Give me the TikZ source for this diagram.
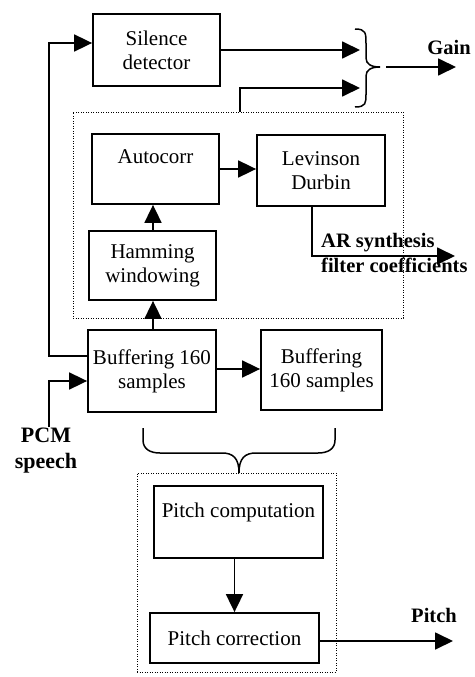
\documentclass[tikz,border=0pt]{standalone}
\usepackage{fontspec}
\setmainfont{Liberation Serif}
\usetikzlibrary{arrows.meta}
\begin{document}
\begin{tikzpicture}[x=1pt,y=-1pt,
 box/.style={draw,line width=1.8pt,inner sep=0pt,align=center,font=\fontsize{21}{24}\selectfont},
 arr/.style={line width=1.8pt,-{Triangle[length=18pt,width=17pt]}},
 ln/.style={line width=1.5pt},
 grp/.style={draw,line width=0.9pt,dash pattern=on 0.9pt off 1.6pt,inner sep=0pt},
 lbl/.style={font=\bfseries\fontsize{20.5}{25}\selectfont,inner sep=0pt},
 big/.style={font=\bfseries\fontsize{22}{26}\selectfont,inner sep=0pt}]
\useasboundingbox (0,0) rectangle (474,677);

% groups
\node[grp,minimum width=330pt,minimum height=206pt] (g1) at (238,215) {};
\node[grp,minimum width=199pt,minimum height=199pt] (g2) at (236.5,572.5) {};

% boxes
\node[box,minimum width=127pt,minimum height=72pt] (sil) at (156.5,50) {Silence\\detector};
\node[box,minimum width=127pt,minimum height=70pt] (auto) at (155.5,169) {Autocorr\\\mbox{}};
\node[box,minimum width=128pt,minimum height=71pt] (lev) at (321,170.5) {Levinson\\Durbin};
\node[box,minimum width=127pt,minimum height=69pt] (ham) at (152.5,265.5) {Hamming\\windowing};
\node[box,minimum width=128pt,minimum height=82pt] (buf1) at (152,371) {\raisebox{3pt}{Buffering 160}\\\raisebox{3pt}{samples}};
\node[box,minimum width=121pt,minimum height=80pt] (buf2) at (321.5,370) {Buffering\\160 samples};
\node[box,minimum width=169pt,minimum height=72pt] (pc) at (238.5,522) {Pitch computation\\\mbox{}};
\node[box,minimum width=169pt,minimum height=50pt] (pcor) at (234.5,638) {Pitch correction};

% labels
\node[lbl] (gain) at (449,47) {Gain};
\node[lbl,anchor=base west] (ar1) at (321,247) {AR synthesis};
\node[lbl,anchor=base west] (ar2) at (321,272) {filter coefficients};
\node[big,anchor=base] (pcm) at (46,442) {PCM};
\node[big,anchor=base] (sp) at (46,468) {speech};
\node[lbl] (pitch) at (434,615) {Pitch};

% coordinates
\coordinate (gA) at (360,50);
\coordinate (gBx) at (240,0);
\coordinate (gB) at (360,88);
\coordinate (gainS) at (386,67);
\coordinate (gainE) at (456,67);
\coordinate (fb) at (49,356);
\coordinate (fbt) at (49,43);
\coordinate (cx) at (153,0);
\coordinate (arx) at (312,0);
\coordinate (arE) at (455,256);
\coordinate (bb) at (0,369);
\coordinate (pcmS) at (49,427);
\coordinate (pcmT) at (49,381);
\coordinate (pE) at (453,641);

% connectors
\draw[arr] (sil.east |- gA) -- (gA);
\draw[arr] (g1.north -| gBx) |- (gB);
\draw[ln] (355,29) .. controls (366,29) and (366,33) .. (366,44) -- (366,58)
  .. controls (366,64) and (371,67) .. (380,67)
  .. controls (371,67) and (366,70) .. (366,76) -- (366,94)
  .. controls (366,103) and (366,107) .. (355,107);
\draw[arr] (gainS) -- (gainE);
\draw[arr] (buf1.west |- fb) -- (fb) -- (fbt) -- (sil.west |- fbt);
\draw[arr] (auto.east) -- (lev.west |- auto.east);
\draw[arr] (ham.north -| cx) -- (auto.south -| cx);
\draw[arr] (buf1.north -| cx) -- (ham.south -| cx);
\draw[arr] (lev.south -| arx) |- (arE);
\draw[arr] (buf1.east |- bb) -- (buf2.west |- bb);
\draw[arr] (pcmS) -- (pcmT) -- (buf1.west |- pcmT);
\draw[ln] (143,428) -- (143,440) .. controls (143,449) and (150,453) .. (160,453) -- (222,453)
  .. controls (233,453) and (239,458) .. (239,473)
  .. controls (239,458) and (245,453) .. (256,453) -- (318,453)
  .. controls (328,453) and (335,449) .. (335,440) -- (335,428);
\draw[arr] (pcor.north |- pc.south) -- (pcor.north);
\draw[arr] (pcor.east |- pE) -- (pE);
\end{tikzpicture}
\end{document}
